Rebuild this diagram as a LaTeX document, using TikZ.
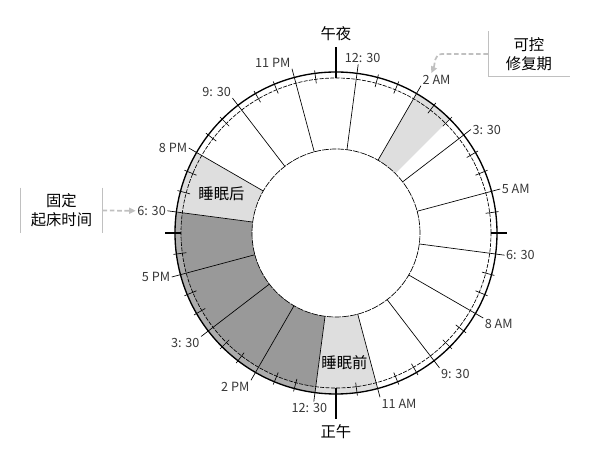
\documentclass[tikz,border=0pt]{standalone}
\usepackage{fontspec}
\setmainfont{Noto Sans CJK SC}
\usetikzlibrary{arrows.meta, positioning}

\definecolor{sleepdark}{RGB}{153,153,153}
\definecolor{sleepband}{RGB}{172,172,172}
\definecolor{sleeplight}{RGB}{222,222,222}
\definecolor{calloutgray}{RGB}{192,192,192}
\definecolor{labelgray}{RGB}{55,55,55}

\begin{document}
\begin{tikzpicture}[x=0.75pt, y=0.75pt,
    hourlabel/.style={font=\fontsize{9.5}{11}\selectfont, text=labelgray, inner sep=1pt},
    cjklabel/.style={font=\fontsize{11.5}{13}\selectfont},
    calloutbox/.style={font=\fontsize{11.5}{14}\selectfont, align=center, minimum width=61pt, minimum height=34pt},
    calloutline/.style={calloutgray, line width=0.8pt},
    calloutarrow/.style={calloutgray, line width=1.3pt, dash pattern=on 3.5pt off 2pt, -{Triangle[length=5pt, width=4.5pt]}}]
  \useasboundingbox (-336,-219) rectangle (265,233);

  % sleep phases
  \fill[sleepdark] (-97.5:84) arc[start angle=-97.5, end angle=-187.5, radius=84]
    -- (-187.5:161) arc[start angle=-187.5, end angle=-97.5, radius=161] -- cycle;
  \fill[sleepband] (-97.5:155) arc[start angle=-97.5, end angle=-187.5, radius=155]
    -- (-187.5:161) arc[start angle=-187.5, end angle=-97.5, radius=161] -- cycle;
  \foreach \a/\b in {-75/-97.5, -187.5/-210, 60/45}
    \fill[sleeplight] (\a:84) arc[start angle=\a, end angle=\b, radius=84]
      -- (\b:161) arc[start angle=\b, end angle=\a, radius=161] -- cycle;

  % dial
  \draw[line width=1pt] (0,0) circle[radius=161];
  \draw[line width=0.5pt, dash pattern=on 3pt off 1pt] (0,0) circle[radius=155];
  \draw[line width=0.5pt, dash pattern=on 5pt off 0.8pt] (0,0) circle[radius=84];

  % hour lines every 1.5 h
  \foreach \th/\txt/\anc/\nm in {82.5/{12: 30}/235/t0030, 60/{2 AM}/south west/t0200,
      37.5/{3: 30}/west/t0330, 15/{5 AM}/west/t0500, -7.5/{6: 30}/west/t0630,
      -30/{8 AM}/north west/t0800, -52.5/{9: 30}/north west/t0930, -75/{11 AM}/north west/t1100,
      -97.5/{12: 30}/55/t1230, -120/{2 PM}/north east/t1400, -142.5/{3: 30}/north east/t1530,
      -165/{5 PM}/east/t1700, -187.5/{6: 30}/east/t1830, -210/{8 PM}/east/t2000,
      -232.5/{9: 30}/south east/t2130, -255/{11 PM}/south east/t2300}
    \draw[line width=0.5pt] (\th:84) -- (\th:170) node[hourlabel, anchor=\anc] (\nm) {\txt};

  % half-hour ticks
  \foreach \m in {0,...,47} {
    \pgfmathtruncatemacro\rest{mod(\m,3)}
    \pgfmathtruncatemacro\quart{mod(\m,12)}
    \ifnum\rest=1\relax\else\ifnum\quart=0\relax\else
      \draw[line width=0.5pt] ({90-7.5*\m}:151) -- ({90-7.5*\m}:164);
    \fi\fi
  }

  % quarter ticks
  \draw[line width=2pt] (90:155) -- (90:186) node[cjklabel, above] (midnight) {午夜};
  \draw[line width=2pt] (-90:155) -- (-90:186) node[cjklabel, below] (noon) {正午};
  \draw[line width=2pt] (0:155) -- (0:171);
  \draw[line width=2pt] (180:155) -- (180:171);

  \node[cjklabel] (after) at (161.25:121) {睡眠后};
  \node[cjklabel] (before) at (-86.25:130) {睡眠前};

  % callouts
  \node[calloutbox] (wake) at (-274.5,22.5) {固定\\起床时间};
  \draw[calloutline] (wake.north west) -- (wake.south west) (wake.north east) -- (wake.south east);
  \draw[calloutarrow] (wake.east) -- (t1830.west);

  \node[calloutbox] (repair) at (193,179) {可控\\修复期};
  \draw[calloutline] (repair.north west) -- (repair.south west) -- (repair.south east);
  \draw[calloutarrow] (repair.west) -- ++(-46,0) to[out=180, in=65] ([xshift=-4pt]t0200.north);
\end{tikzpicture}
\end{document}
